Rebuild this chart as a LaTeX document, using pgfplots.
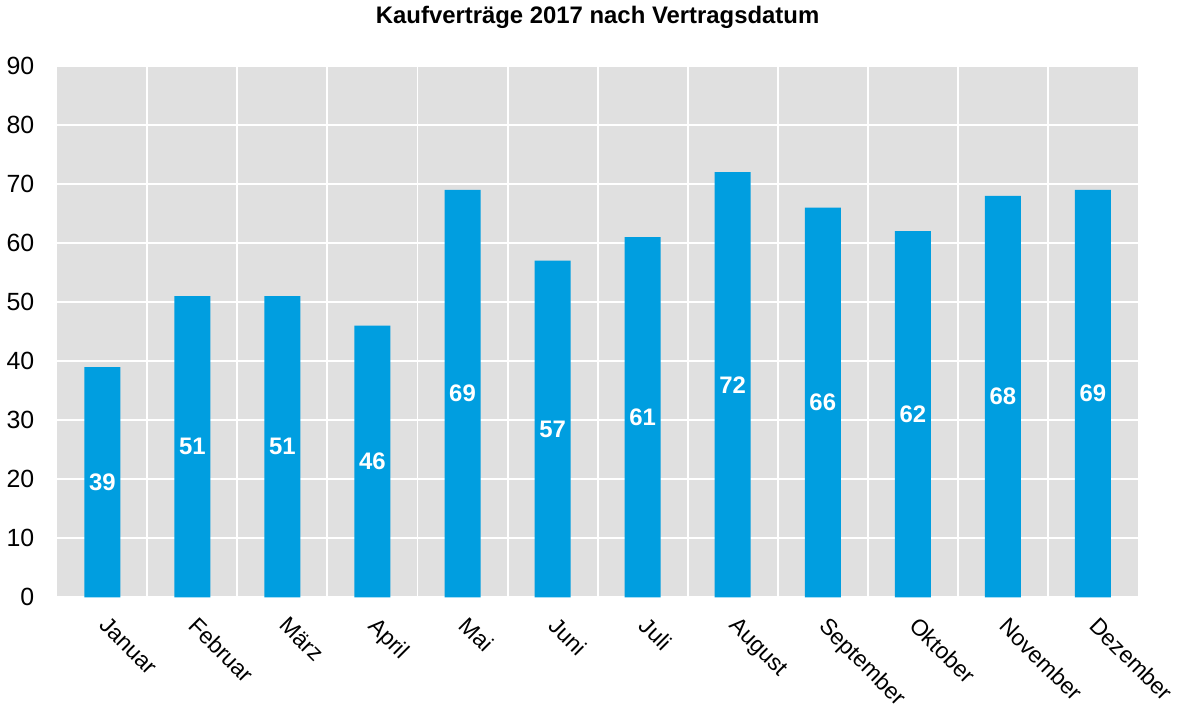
\documentclass[border=0pt]{standalone}
\usepackage{fontspec}
\setmainfont{Liberation Sans}
\usepackage{pgfplots}
\pgfplotsset{compat=1.18}
\definecolor{barblue}{HTML}{009EE0}
\definecolor{plotgray}{HTML}{E0E0E0}
\begin{document}
\begin{tikzpicture}
\begin{axis}[
    scale only axis,
    width=543pt, height=267pt,
    axis background/.style={fill=plotgray},
    axis line style={draw=none},
    xmin=-0.5, xmax=11.5,
    ymin=0, ymax=90,
    ytick={0,10,...,90},
    xtick={0,...,11},
    minor xtick={0.5,1.5,...,10.5},
    xminorgrids, ymajorgrids,
    grid style={white, line width=1pt},
    minor grid style={white, line width=1pt},
    major tick length=0pt, minor tick length=0pt,
    xticklabels={Januar,Februar,März,April,Mai,Juni,Juli,August,September,Oktober,November,Dezember},
    xticklabel style={rotate=-45, anchor=north west, font=\fontsize{11.5}{13}\selectfont, yshift=-0.5pt, xshift=5.5pt},
    yticklabel style={font=\fontsize{12.5}{14}\selectfont, xshift=-8pt},
    /pgf/number format/assume math mode=true,
    title={\bfseries Kaufverträge 2017 nach Vertragsdatum},
    title style={font=\fontsize{12}{14}\selectfont, yshift=9pt},
    ybar, bar width=0.4, bar shift=0pt,
    visualization depends on={y \as \rawy},
    nodes near coords,
    nodes near coords style={font=\fontsize{12}{14}\selectfont\bfseries, white, anchor=center,
      shift={(axis direction cs:0,-\rawy/2)}},
]
\addplot[fill=barblue, draw=none] coordinates {
(0,39) (1,51) (2,51) (3,46) (4,69) (5,57)
(6,61) (7,72) (8,66) (9,62) (10,68) (11,69)
};
\end{axis}
\end{tikzpicture}
\end{document}
